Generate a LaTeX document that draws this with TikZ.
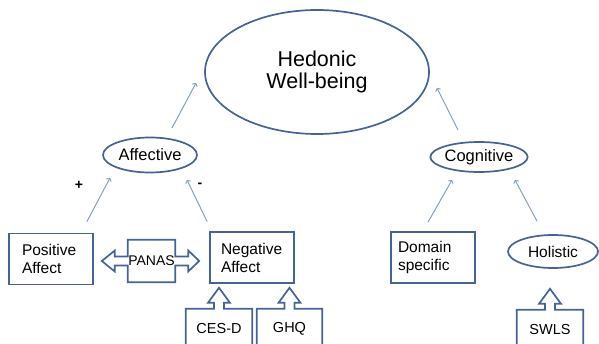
\documentclass[tikz,border=0pt]{standalone}
\usepackage{fontspec}
\setmainfont{Liberation Sans}
\usepackage{tikz}
\usetikzlibrary{arrows.meta,positioning,calc,shapes.geometric}
\definecolor{wbedge}{RGB}{68,100,150}
\definecolor{wblink}{RGB}{128,160,206}
\tikzset{
  wbell/.style={
    draw=wbedge, line width=1.7pt, ellipse, inner sep=0pt,
    font=\fontsize{16.5}{18}\selectfont
  },
  wbbox/.style={
    draw=wbedge, line width=1.7pt, rectangle, inner sep=0pt, align=left,
    minimum width=84pt, minimum height=51pt, font=\fontsize{15.5}{18}\selectfont
  },
  callout/.style={
    rectangle, inner sep=0pt, minimum width=66pt, minimum height=40pt,
    font=\fontsize{14.5}{17}\selectfont
  },
  blk/.style={draw=wbedge, line width=1.7pt, line join=miter},
  lnk/.style={-{To[length=3pt,width=6pt]}, draw=wblink, line width=1pt},
  sign/.style={font=\bfseries\fontsize{14}{15}\selectfont}
}

\begin{document}
\begin{tikzpicture}[x=1pt, y=1pt]
  \useasboundingbox (0,0) rectangle (599,343);
  \clip (0,0) rectangle (599,343);
  % top level
  \node[wbell, minimum width=224pt, minimum height=124pt,
    font=\fontsize{21.5}{22}\selectfont, align=center] (hed) at (317,271) {Hedonic\\Well-being};
  \node[wbell, minimum width=94pt, minimum height=35pt] (aff) at (150,188) {Affective};
  \node[wbell, minimum width=92pt, minimum height=30pt] (cog) at (479,186) {Cognitive};
  % measures
  \node[wbbox, text width=58pt] (pos) at (51,84) {Positive\\Affect};
  \node[wbbox, text width=62pt] (neg) at (252,85.5) {Negative\\Affect};
  \node[wbbox, text width=70pt] (dom) at (433,85.5) {Domain\\specific};
  \node[wbell, minimum width=90pt, minimum height=33pt, font=\fontsize{15.5}{18}\selectfont] (hol) at (553,91.5) {Holistic};
  \node[sign] (plus) at (79,158) {+};
  \node[sign] (minus) at (200,158) {-};
  % scales
  \node[rectangle, inner sep=0pt, minimum width=47pt, minimum height=42pt,
    font=\fontsize{14}{16}\selectfont] (panas) at (151.5,82) {PANAS};
  \node[callout] (cesd) at (219,14) {CES-D};
  \node[callout, minimum width=65pt] (ghq) at (289.5,14) {GHQ};
  \node[callout] (swls) at (550,13) {SWLS};
  \draw[blk] (panas.north west) -- (panas.north east) -- ([yshift=4.5pt]panas.east)
    -- ++(13,0) -- ++(0,6) -- ++(11,-10.5) -- ++(-11,-10.5) -- ++(0,6) -- ++(-13,0)
    -- (panas.south east) -- (panas.south west) -- ([yshift=-4.5pt]panas.west)
    -- ++(-13,0) -- ++(0,-6) -- ++(-13,10.5) -- ++(13,10.5) -- ++(0,-6) -- ++(13,0)
    -- cycle;
  \foreach \n in {cesd,ghq,swls}
    \draw[blk] (\n.south west) -- (\n.north west) -- ([xshift=-5pt]\n.north)
      -- ++(0,6) -- ++(-6,0) -- ++(11,15) -- ++(11,-15) -- ++(-6,0) -- ++(0,-6)
      -- (\n.north east) -- (\n.south east);
  % links
  \draw[lnk] ([xshift=-7pt,yshift=11pt]pos.north east) -- ([xshift=-40pt,yshift=-23pt]aff.center);
  \draw[lnk] ([xshift=-2pt,yshift=9.5pt]neg.north west) -- ([xshift=37pt,yshift=-25pt]aff.center);
  \draw[lnk] ([xshift=22pt,yshift=27pt]aff.center) -- ([xshift=-121pt,yshift=-11pt]hed.center);
  \draw[lnk] ([xshift=-21pt,yshift=27pt]cog.center) -- ([xshift=120pt,yshift=-16pt]hed.center);
  \draw[lnk] ([xshift=-5pt,yshift=9pt]dom.north) -- ([xshift=-27pt,yshift=-23pt]cog.center);
  \draw[lnk] ([xshift=-16pt,yshift=13pt]hol.north) -- ([xshift=36pt,yshift=-23pt]cog.center);
\end{tikzpicture}
\end{document}
